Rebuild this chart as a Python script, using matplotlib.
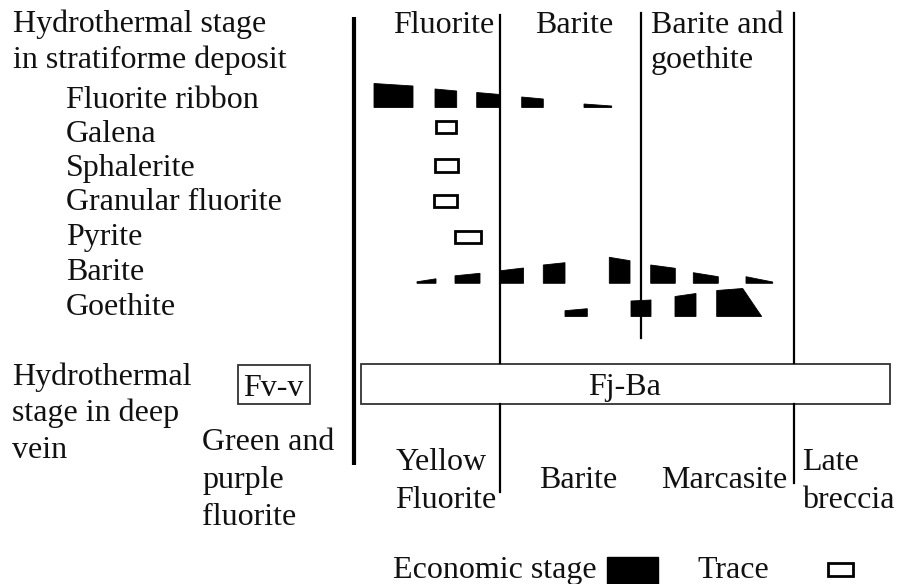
import matplotlib.pyplot as plt
from matplotlib.patches import Polygon, Rectangle

plt.rcParams['font.family'] = ['Liberation Serif', 'DejaVu Serif']

# mineral rows of the stratiform deposit (label, baseline of the row)
minerals = ['Fluorite ribbon', 'Galena', 'Sphalerite', 'Granular fluorite',
            'Pyrite', 'Barite', 'Goethite']
mineral_baselines = [108, 142, 176, 210, 245, 280, 315]

# economic bands: start, end, thickness at start, thickness at end
ribbon_start = [374, 435, 476.7, 521.7, 584]
ribbon_end = [413, 456.7, 500, 543.3, 611.7]
ribbon_h0 = [24, 18.5, 15, 10.5, 3.5]
ribbon_h1 = [21.5, 16.5, 13, 8.5, 1.5]

barite_start = [417, 455, 500, 543.3, 609.3, 650.7, 693.3, 746]
barite_end = [436, 480, 523.5, 565, 630, 675.3, 718.3, 772.7]
barite_h0 = [1.5, 7.5, 12.5, 18.3, 26, 18.3, 10.6, 6.6]
barite_h1 = [4.5, 10, 15.3, 20.6, 22.6, 15, 6.6, 1.3]

goethite_start = [565, 631, 675, 716.7]
goethite_end = [587.3, 651, 696, 742.7]
goethite_end_base = [587.3, 651, 696, 761.7]
goethite_h0 = [5.8, 15.5, 20, 26]
goethite_h1 = [7.8, 16.5, 23, 28]

# trace occurrences: x0, x1, y0, y1
trace_minerals = ['Galena', 'Sphalerite', 'Granular fluorite', 'Pyrite']
trace_x0 = [436, 435, 434, 455]
trace_x1 = [456, 458, 457, 481]
trace_y0 = [120.5, 158.5, 195, 230.5]
trace_y1 = [133, 171.5, 207, 243]

stage_top = ['Fluorite', 'Barite', 'Barite and\ngoethite']
stage_bottom = ['Yellow\nFluorite', 'Barite', 'Marcasite', 'Late\nbreccia']

FS = 23
INK = '#111111'

fig = plt.figure(figsize=(9.01, 5.84), dpi=100)
ax = fig.add_axes([0, 0, 1, 1])
ax.set_xlim(0, 901)
ax.set_ylim(584, 0)
ax.axis('off')


def band(x0, x1, h0, h1, base, x1_base=None):
    if x1_base is None:
        x1_base = x1
    pts = [(x0, base - h0), (x1, base - h1), (x1_base, base), (x0, base)]
    ax.add_patch(Polygon(pts, closed=True, facecolor='black', edgecolor='black', lw=0.6))


def txt(x, y, s, **kw):
    ax.text(x, y, s, fontsize=FS, color=INK, va='baseline', ha=kw.pop('ha', 'left'),
            **kw)


# left hand labels
txt(13, 32, 'Hydrothermal stage')
txt(13, 68, 'in stratiforme deposit')
for name, yb in zip(minerals, mineral_baselines):
    txt(66, yb, name)

txt(12, 385, 'Hydrothermal')
txt(12, 421, 'stage in deep')
txt(12, 458, 'vein')
txt(202, 450, 'Green and')
txt(202, 488, 'purple')
txt(202, 525, 'fluorite')

# stage separators
ax.plot([354, 354], [17, 465], color='black', lw=3.0, solid_capstyle='butt')
ax.plot([500, 500], [15, 363], color='black', lw=1.6)
ax.plot([500, 500], [404, 492], color='black', lw=1.6)
ax.plot([641, 641], [13, 338], color='black', lw=1.6)
ax.plot([793.5, 793.5], [13, 363], color='black', lw=1.6)
ax.plot([793.5, 793.5], [404, 483], color='black', lw=1.6)

# stage names
txt(393, 33, stage_top[0])
txt(535, 33, stage_top[1])
txt(651, 33, 'Barite and')
txt(651, 68, 'goethite')

txt(396, 470, 'Yellow')
txt(395, 508, 'Fluorite')
txt(539, 488, stage_bottom[1])
txt(661, 488, stage_bottom[2])
txt(802, 470, 'Late')
txt(802, 508, 'breccia')

# economic bands
base = mineral_baselines[0] - 0.5
for x0, x1, h0, h1 in zip(ribbon_start, ribbon_end, ribbon_h0, ribbon_h1):
    band(x0, x1, h0, h1, base)
base = 283.3
for x0, x1, h0, h1 in zip(barite_start, barite_end, barite_h0, barite_h1):
    band(x0, x1, h0, h1, base)
base = 316.5
for x0, x1, xb, h0, h1 in zip(goethite_start, goethite_end, goethite_end_base,
                              goethite_h0, goethite_h1):
    band(x0, x1, h0, h1, base, xb)

# traces
for x0, x1, y0, y1 in zip(trace_x0, trace_x1, trace_y0, trace_y1):
    ax.add_patch(Rectangle((x0, y0), x1 - x0, y1 - y0, facecolor='white',
                           edgecolor='black', lw=2.0))

# deep vein stages
ax.add_patch(Rectangle((361, 363.5), 529, 40.5, facecolor='white',
                       edgecolor='#333333', lw=1.3))
txt(625, 395, 'Fj-Ba', ha='center')
ax.add_patch(Rectangle((238, 364.5), 71.5, 39.5, facecolor='white',
                       edgecolor='#333333', lw=1.3))
txt(273.5, 396, 'Fv-v', ha='center')

# legend
txt(393, 578, 'Economic stage')
ax.add_patch(Rectangle((606.5, 556.5), 51.5, 28, facecolor='black', edgecolor='black'))
txt(697, 578, 'Trace')
ax.add_patch(Rectangle((827.5, 563), 25.5, 12.5, facecolor='white',
                       edgecolor='black', lw=2.0))

fig.savefig('out.png', dpi=100)
